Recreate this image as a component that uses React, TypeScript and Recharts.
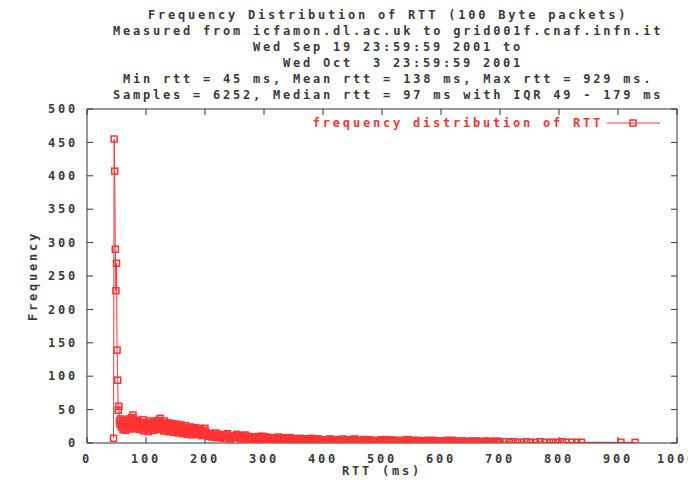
import React from 'react';
import { LineChart, Line, XAxis, YAxis, Legend, Label } from 'recharts';

// ---- data (RTT in ms, frequency counts) ----
const spikeRtt = [45, 46, 47, 48, 49, 50, 51, 52, 53, 54, 55, 56, 57];
const spikeFreq = [7, 455, 407, 290, 228, 269, 139, 94, 49, 55, 33, 28, 36];

const bodyRtt = [58, 60, 62, 64, 66, 68, 70, 72, 74, 76, 78, 80, 82, 84, 86, 88, 90, 92, 94, 96, 98, 100, 102, 104, 106, 108, 110, 112, 114, 116, 118, 120, 122, 124, 126, 128, 130, 132, 134, 136, 138, 140, 142, 144, 146, 148, 150, 152, 154, 156, 158, 160, 162, 164, 166, 168, 170, 172, 174, 176, 178, 180, 182, 184, 186, 188, 190, 192, 194, 196, 198, 200];
const bodyFreq = [24, 31, 22, 27, 19, 33, 25, 29, 21, 38, 42, 26, 30, 23, 34, 20, 28, 24, 31, 18, 26, 22, 29, 17, 25, 21, 30, 19, 27, 23, 33, 20, 28, 37, 24, 30, 18, 26, 22, 29, 17, 25, 20, 27, 16, 24, 19, 26, 15, 22, 18, 25, 14, 21, 17, 23, 13, 20, 16, 22, 12, 19, 15, 21, 13, 18, 14, 20, 11, 17, 13, 22];
const bodyOddRtt = [59, 61, 63, 65, 67, 69, 71, 73, 75, 77, 79, 81, 83, 85, 87, 89, 91, 93, 95, 97, 99, 101, 103, 105, 107, 109, 111, 113, 115, 117, 119, 121, 123, 125, 127, 129, 131, 133, 135, 137, 139, 141, 143, 145, 147, 149, 151, 153, 155, 157, 159, 161, 163, 165, 167, 169, 171, 173, 175, 177, 179, 181, 183, 185, 187, 189, 191, 193, 195, 197, 199];
const bodyOddFreq = [29, 20, 34, 24, 30, 22, 36, 27, 33, 26, 35, 22, 28, 32, 25, 31, 21, 27, 35, 23, 30, 25, 20, 28, 33, 24, 26, 31, 22, 29, 25, 34, 21, 30, 27, 22, 33, 19, 27, 24, 30, 22, 26, 18, 29, 23, 21, 28, 24, 17, 27, 20, 23, 16, 26, 19, 22, 15, 24, 18, 21, 14, 23, 17, 19, 13, 22, 16, 18, 12, 19];

const midRtt = [204, 208, 212, 216, 220, 224, 228, 232, 236, 240, 244, 248, 252, 256, 260, 264, 268, 272, 276, 280, 284, 288, 292, 296, 300, 304, 308, 312, 316, 320, 324, 328, 332, 336, 340, 344, 348, 352, 356, 360, 364, 368, 372, 376, 380, 384, 388, 392, 396, 400];
const midFreq = [11, 14, 9, 12, 8, 13, 10, 7, 12, 9, 6, 11, 8, 10, 6, 9, 12, 7, 5, 9, 8, 6, 10, 5, 7, 9, 4, 8, 6, 5, 9, 6, 4, 7, 5, 8, 4, 6, 5, 7, 3, 6, 5, 4, 7, 3, 5, 6, 4, 5];
const midOddRtt = [202, 206, 210, 214, 218, 222, 226, 230, 234, 238, 242, 246, 250, 254, 258, 262, 266, 270, 274, 278, 282, 286, 290, 294, 298, 302, 306, 310, 314, 318, 322, 326, 330, 334, 338, 342, 346, 350, 354, 358, 362, 366, 370, 374, 378, 382, 386, 390, 394, 398];
const midOddFreq = [16, 10, 13, 9, 15, 11, 8, 12, 10, 14, 7, 10, 9, 13, 8, 11, 6, 9, 10, 7, 6, 9, 8, 5, 10, 7, 6, 8, 5, 7, 4, 7, 6, 8, 5, 4, 7, 5, 6, 3, 6, 5, 4, 6, 3, 5, 4, 6, 3, 4];

const lowRtt = [406, 412, 418, 424, 430, 436, 442, 448, 454, 460, 466, 472, 478, 484, 490, 496, 502, 508, 514, 520, 526, 532, 538, 544, 550, 556, 562, 568, 574, 580, 586, 592, 598, 604, 610, 616, 622, 628, 634, 640, 646, 652, 658, 664, 670, 676, 682, 688, 694, 700];
const lowFreq = [4, 6, 3, 5, 2, 4, 5, 3, 6, 2, 4, 3, 5, 2, 4, 3, 1, 5, 3, 4, 2, 4, 3, 5, 2, 3, 4, 2, 3, 1, 4, 2, 3, 2, 4, 1, 3, 2, 3, 2, 1, 3, 2, 2, 1, 3, 2, 1, 2, 2];
const lowOddRtt = [409, 415, 421, 427, 433, 439, 445, 451, 457, 463, 469, 475, 481, 487, 493, 499, 505, 511, 517, 523, 529, 535, 541, 547, 553, 559, 565, 571, 577, 583, 589, 595, 601, 607, 613, 619, 625, 631, 637, 643, 649, 655, 661, 667, 673, 679, 685, 691, 697];
const lowOddFreq = [3, 5, 2, 4, 6, 3, 2, 5, 4, 3, 5, 2, 4, 3, 2, 5, 3, 2, 4, 3, 3, 2, 5, 3, 4, 2, 3, 1, 4, 2, 2, 3, 1, 3, 2, 4, 2, 1, 3, 2, 2, 1, 3, 1, 2, 2, 1, 3, 1];

const tailRtt = [708, 716, 722, 730, 737, 745, 752, 760, 768, 776, 784, 790, 798, 806, 812, 822, 830, 838, 905, 929];
const tailFreq = [2, 1, 2, 1, 1, 2, 1, 1, 2, 1, 1, 1, 1, 2, 1, 1, 1, 1, 1, 1];

const xTicks = [0, 100, 200, 300, 400, 500, 600, 700, 800, 900, 1000];
const yTicks = [0, 50, 100, 150, 200, 250, 300, 350, 400, 450, 500];

const seriesName = 'frequency distribution of RTT';
const titleLines = [
  'Frequency Distribution of RTT (100 Byte packets)',
  'Measured from icfamon.dl.ac.uk to grid001f.cnaf.infn.it',
  'Wed Sep 19 23:59:59 2001 to',
  'Wed Oct  3 23:59:59 2001',
  'Min rtt = 45 ms, Mean rtt = 138 ms, Max rtt = 929 ms.',
  'Samples = 6252, Median rtt = 97 ms with IQR 49 - 179 ms',
];
const titleStartX = [148, 113, 253, 283, 123, 113];
const titleCenterY = [15, 31, 47, 63, 79, 95];

const pairs = (xs: number[], ys: number[]) => xs.map((x, i) => ({ rtt: x, freq: ys[i] }));
const data = [
  ...pairs(spikeRtt, spikeFreq),
  ...pairs(bodyRtt, bodyFreq),
  ...pairs(bodyOddRtt, bodyOddFreq),
  ...pairs(midRtt, midFreq),
  ...pairs(midOddRtt, midOddFreq),
  ...pairs(lowRtt, lowFreq),
  ...pairs(lowOddRtt, lowOddFreq),
  ...pairs(tailRtt, tailFreq),
].sort((a, b) => a.rtt - b.rtt);

// ---- styling ----
const RED = '#ff3333';
const AXIS = '#333333';
const TEXT = '#3a3a3a';
const FONT = '"DejaVu Sans Mono", monospace';
const FS = 12;
const FW = 700;
const LS = 2.78;

const SquareDot = (props: any) => {
  const { cx, cy, index } = props;
  if (cx == null || cy == null) return <g key={`d${index}`} />;
  return (
    <rect key={`d${index}`} x={cx - 3} y={cy - 3} width={6} height={6} fill="none" stroke={RED} strokeWidth={1.5} />
  );
};

const renderLegend = (props: any) => {
  const item = (props.payload || []).find((p: any) => p.type !== 'none');
  const label = item ? item.value : seriesName;
  return (
    <svg width={688} height={20} style={{ display: 'block' }}>
      <text x={603} y={10} dominantBaseline="central" textAnchor="end" fill={RED} fontFamily={FONT} fontSize={FS} fontWeight={FW} letterSpacing={LS}>
        {label}
      </text>
      <line x1={607} x2={660} y1={10} y2={10} stroke={RED} strokeWidth={1} />
      <rect x={630} y={7} width={6} height={6} fill="none" stroke={RED} strokeWidth={1.5} />
    </svg>
  );
};

const tickStyle = { fill: TEXT, fontFamily: FONT, fontSize: FS, fontWeight: FW, letterSpacing: LS };

const YLabel = (p: any) => {
  const vb = p.viewBox || { x: 27, y: 109, width: 60, height: 334 };
  const x = vb.x + 6;
  const y = vb.y + vb.height / 2;
  return (
    <text x={x} y={y} transform={`rotate(-90 ${x} ${y})`} textAnchor="middle" dominantBaseline="central" fill={TEXT} fontFamily={FONT} fontSize={FS} fontWeight={FW} letterSpacing={LS}>
      Frequency
    </text>
  );
};

const XLabel = (p: any) => {
  const vb = p.viewBox || { x: 87, y: 443, width: 590, height: 30 };
  const x = vb.x + vb.width / 2;
  const y = vb.y + 28;
  return (
    <text x={x} y={y} textAnchor="middle" dominantBaseline="central" fill={TEXT} fontFamily={FONT} fontSize={FS} fontWeight={FW} letterSpacing={LS}>
      RTT (ms)
    </text>
  );
};

export default function App() {
  return (
    <div style={{ position: 'absolute', left: 0, top: 0, width: 688, height: 480, background: '#fff', overflow: 'hidden' }}>
      {titleLines.map((t, i) => (
        <div
          key={i}
          style={{
            position: 'absolute',
            left: titleStartX[i],
            top: titleCenterY[i] - 7,
            height: 14,
            lineHeight: '14px',
            whiteSpace: 'pre',
            fontFamily: FONT,
            fontSize: FS,
            fontWeight: FW,
            letterSpacing: LS,
            color: TEXT,
          }}
        >
          {t}
        </div>
      ))}
      <LineChart width={688} height={480} data={data} margin={{ top: 99, right: 1, bottom: 7, left: 27 }}>
        <XAxis
          xAxisId="bottom"
          type="number"
          dataKey="rtt"
          domain={[0, 1000]}
          ticks={xTicks}
          allowDataOverflow
          height={30}
          tickSize={-6}
          tickMargin={17}
          tick={tickStyle}
          axisLine={{ stroke: AXIS }}
          tickLine={{ stroke: AXIS }}
          interval={0}
        >
          <Label content={XLabel} />
        </XAxis>
        <XAxis
          xAxisId="top"
          orientation="top"
          type="number"
          dataKey="rtt"
          domain={[0, 1000]}
          ticks={xTicks}
          allowDataOverflow
          height={10}
          tickSize={-6}
          tickFormatter={() => ''}
          axisLine={{ stroke: AXIS }}
          tickLine={{ stroke: AXIS }}
          interval={0}
        />
        <YAxis
          yAxisId="left"
          type="number"
          domain={[0, 500]}
          ticks={yTicks}
          allowDataOverflow
          width={60}
          tickSize={-6}
          tickMargin={15}
          tick={tickStyle}
          axisLine={{ stroke: AXIS }}
          tickLine={{ stroke: AXIS }}
          interval={0}
        >
          <Label content={YLabel} />
        </YAxis>
        <YAxis
          yAxisId="right"
          orientation="right"
          type="number"
          domain={[0, 500]}
          ticks={yTicks}
          allowDataOverflow
          width={10}
          tickSize={-6}
          tickFormatter={() => ''}
          axisLine={{ stroke: AXIS }}
          tickLine={{ stroke: AXIS }}
          interval={0}
        />
        <Legend
          layout="horizontal"
          verticalAlign="middle"
          align="center"
          content={renderLegend}
          wrapperStyle={{ position: 'absolute', left: 0, top: 113, width: 688, height: 20 }}
        />
        <Line
          xAxisId="top"
          yAxisId="right"
          dataKey="freq"
          stroke="none"
          dot={false}
          activeDot={false}
          legendType="none"
          isAnimationActive={false}
        />
        <Line
          xAxisId="bottom"
          yAxisId="left"
          dataKey="freq"
          name={seriesName}
          stroke={RED}
          strokeWidth={1}
          dot={SquareDot}
          activeDot={false}
          isAnimationActive={false}
        />
      </LineChart>
    </div>
  );
}
